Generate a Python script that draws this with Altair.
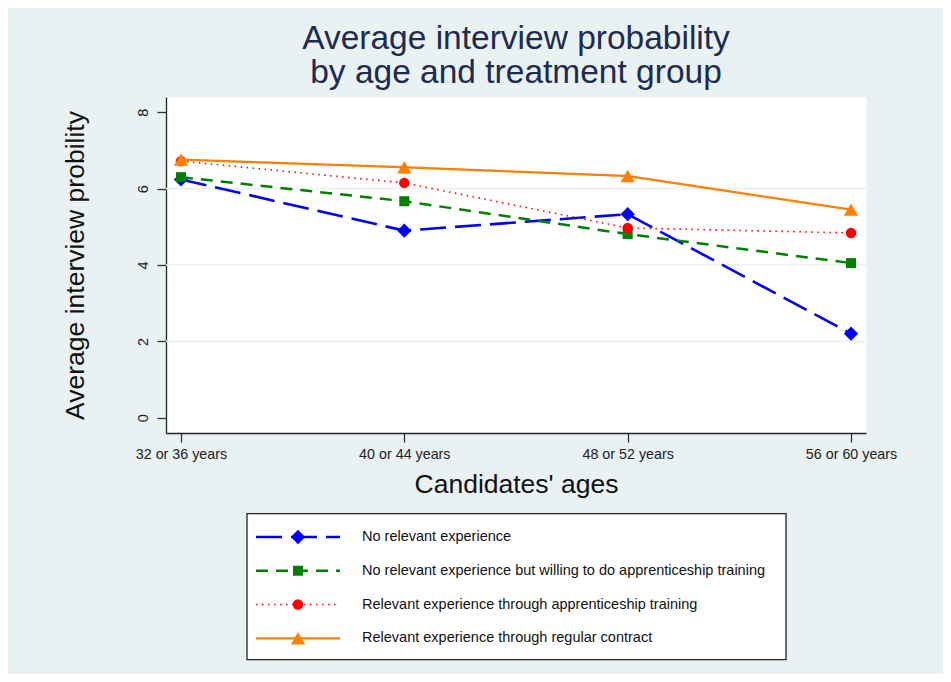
import altair as alt
import pandas as pd

AGES = ["32 or 36 years", "40 or 44 years", "48 or 52 years", "56 or 60 years"]
SERIES = [
    "No relevant experience",
    "No relevant experience but willing to do apprenticeship training",
    "Relevant experience through apprenticeship training",
    "Relevant experience through regular contract",
]
NO_EXPERIENCE = [6.24, 4.90, 5.33, 2.20]
NO_EXPERIENCE_WILLING = [6.30, 5.67, 4.81, 4.05]
APPRENTICESHIP = [6.72, 6.15, 4.97, 4.84]
REGULAR_CONTRACT = [6.76, 6.56, 6.33, 5.45]
Y_TICKS = [0, 2, 4, 6, 8]
GRID_LINES = [2, 4, 6]

VALUES = [NO_EXPERIENCE, NO_EXPERIENCE_WILLING, APPRENTICESHIP, REGULAR_CONTRACT]

# styles (not data)
COLORS = ["#0000ff", "#008000", "#ff0000", "#ff7f00"]
DASHES = [[26, 9], [12, 8], [1.5, 4.5], [1, 0]]
WIDTHS = [2.6, 2.5, 1.6, 2.3]
SHAPES = ["diamond", "square", "circle", "triangle-up"]
SIZES = [204, 100, 110, 204]

BG = "#e9f1f3"
FONT = "Liberation Sans"
W, H = 700, 336

rows = []
for s, vals in zip(SERIES, VALUES):
    for a, v in zip(AGES, vals):
        rows.append({"age": a, "value": v, "series": s})
df = pd.DataFrame(rows)
legend_df = pd.DataFrame({"series": SERIES})
grid_df = pd.DataFrame({"value": GRID_LINES})

x_enc = alt.X(
    "age:N",
    sort=AGES,
    scale=alt.Scale(type="point", padding=0.067, domain=AGES),
    axis=alt.Axis(
        title="Candidates' ages",
        labelAngle=0,
        labelFontSize=14.3,
        labelColor="#222222",
        labelPadding=5,
        tickSize=9,
        tickColor="#333333",
        tickWidth=1.3,
        domainColor="#222222",
        domainWidth=1.3,
        grid=False,
        titleFontSize=26.5,
        titleFontWeight="normal",
        titleColor="#111111",
        titleBaseline="alphabetic",
        titleAlign="center",
        titleX=W / 2,
        titleY=59.5,
    ),
)
y_scale = alt.Scale(domain=[-0.4, 8.4], nice=False, zero=False)
y_axis = alt.Axis(
    title="Average interview probility",
    values=Y_TICKS,
    labelAngle=270,
    labelFontSize=14.5,
    labelColor="#222222",
    labelPadding=7,
    tickSize=9,
    tickColor="#333333",
    tickWidth=1.3,
    domainColor="#222222",
    domainWidth=1.3,
    grid=False,
    titleFontSize=26.5,
    titleFontWeight="normal",
    titleColor="#111111",
    titleAngle=270,
    titleBaseline="alphabetic",
    titleAlign="center",
    titleX=-83,
    titleY=H / 2,
)
y_enc = alt.Y("value:Q", scale=y_scale, axis=y_axis)

grid = alt.Chart(grid_df).mark_rule(color=BG, strokeWidth=1.6).encode(y=y_enc)

main_layers = [grid]
for i, s in enumerate(SERIES):
    base = alt.Chart(df).transform_filter(alt.datum.series == s)
    line = base.mark_line(
        color=COLORS[i], strokeDash=DASHES[i], strokeWidth=WIDTHS[i]
    ).encode(x=x_enc, y=y_enc)
    pts = base.mark_point(
        shape=SHAPES[i], size=SIZES[i], filled=True, color=COLORS[i], opacity=1
    ).encode(x=x_enc, y=y_enc)
    main_layers += [line, pts]
main = alt.layer(*main_layers)

# legend drawn through its own point scale on the series names
leg_scale = alt.Scale(type="point", domain=SERIES, range=[440, 541.3], padding=0)
leg_y = alt.Y("series:N", scale=leg_scale, axis=None)

box = alt.Chart(pd.DataFrame({"k": [0]})).mark_rect(
    fill="white", stroke="#222222", strokeWidth=1.3
).encode(x=alt.value(81), x2=alt.value(620), y=alt.value(416.7), y2=alt.value(562.7))

leg_layers = [box]
for i, s in enumerate(SERIES):
    lb = alt.Chart(legend_df).transform_filter(alt.datum.series == s)
    seg = lb.mark_rule(
        color=COLORS[i], strokeDash=DASHES[i], strokeWidth=WIDTHS[i]
    ).encode(x=alt.value(90), x2=alt.value(174), y=leg_y)
    mk = lb.mark_point(
        shape=SHAPES[i], size=SIZES[i], filled=True, color=COLORS[i], opacity=1
    ).encode(x=alt.value(132), y=leg_y)
    leg_layers += [seg, mk]
texts = alt.Chart(legend_df).mark_text(
    align="left", baseline="middle", fontSize=14.5, color="#111111", font=FONT
).encode(x=alt.value(196), y=leg_y, text="series:N")
leg_layers.append(texts)
legend = alt.layer(*leg_layers)

chart = (
    alt.layer(main, legend)
    .resolve_scale(y="independent")
    .properties(
        width=W,
        height=H,
        title=alt.TitleParams(
            text=["Average interview probability", "by age and treatment group"],
            fontSize=33.5,
            font=FONT,
            fontWeight="normal",
            color="#1e2b50",
            anchor="middle",
            frame="group",
            offset=7,
            lineHeight=34,
        ),
        autosize=alt.AutoSizeParams(type="none"),
        padding={"left": 158, "top": 89, "right": 77, "bottom": 241},
        background=BG,
    )
    .configure(font=FONT)
    .configure_view(fill="white", stroke="transparent")
)

chart.save("out.html", embed_options={"renderer": "svg", "actions": False})
